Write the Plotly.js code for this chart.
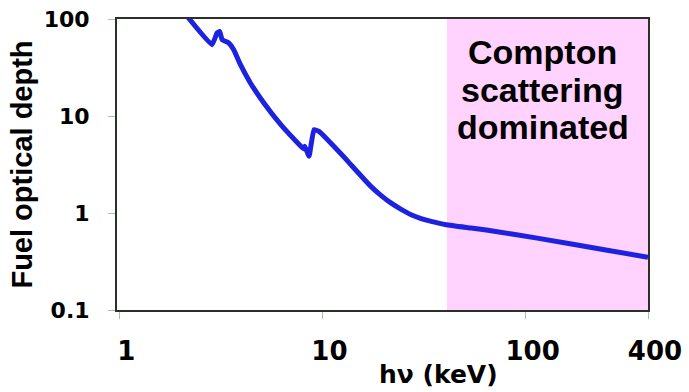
<!DOCTYPE html>
<html>
<head>
<meta charset="utf-8">
<script src="https://cdn.plot.ly/plotly-3.0.1.min.js"></script>
<style>html,body{margin:0;padding:0;background:#fff;}#chart{width:689px;height:392px;}</style>
</head>
<body>
<div id="chart"></div>
<script>
// Photon energy (keV)
var energyKeV = [2.15, 2.86, 3.03, 3.12, 3.21, 3.46, 3.66, 3.95, 4.42, 5.15, 6.24, 7.83, 8.05, 8.18, 8.59, 9.08, 9.62, 12.8, 13.8, 17.3, 19.4, 21.7, 24.4, 27.3, 30.6, 34.3, 40.6, 54, 64, 114, 248, 400];
// Fuel optical depth
var opticalDepth = [108, 54.3, 71.8, 74.5, 61.2, 56.6, 48.3, 33.8, 21.9, 13.6, 8.13, 4.87, 4.6, 4.87, 3.84, 7.23, 6.94, 3.75, 3.15, 1.88, 1.52, 1.27, 1.09, 0.96, 0.877, 0.82, 0.757, 0.70, 0.668, 0.551, 0.416, 0.35];
// Compton-dominated region
var comptonStart = 41;
var comptonEnd = 400;
var comptonLines = ["Compton", "scattering", "dominated"];
var xTickVals = [1, 10, 100, 400];
var xTickText = ["1", "10", "100", "400"];
var yTickVals = [0.1, 1, 10, 100];
var yTickText = ["0.1", "1", "10", "100"];

var trace = {
  x: energyKeV, y: opticalDepth, type: 'scatter', mode: 'lines',
  line: {color: '#1c22e0', width: 5, shape: 'spline', smoothing: 0.35},
  hoverinfo: 'skip', showlegend: false
};

var boldFam = 'DejaVu Sans, Verdana, sans-serif';
var annY = [0.887, 0.756, 0.629];
var annotations = comptonLines.map(function(t, i){
  return {text: t, xref: 'paper', yref: 'paper', x: 0.802, y: annY[i], showarrow: false,
    xanchor: 'center', yanchor: 'middle',
    font: {family: 'Liberation Sans, Arial, sans-serif', weight: 'bold', size: 34, color: '#000'}};
});
annotations.push({text: 'hν (keV)', xref: 'paper', yref: 'paper', x: 0.606, y: -0.222,
  showarrow: false, xanchor: 'center', yanchor: 'middle',
  font: {family: boldFam, weight: 'bold', size: 25, color: '#000'}});

var layout = {
  width: 689, height: 392,
  margin: {l: 117, r: 41, t: 19, b: 82},
  paper_bgcolor: '#fff', plot_bgcolor: '#fff',
  xaxis: {
    type: 'log', range: [-0.011, Math.log10(400)],
    tickvals: xTickVals, ticktext: xTickText,
    showgrid: false, zeroline: false,
    showline: true, mirror: true, linecolor: '#2a2f2a', linewidth: 2,
    ticks: 'outside', ticklen: 7, tickcolor: '#9c9', tickwidth: 1,
    ticklabelstandoff: 10, ticklabelshift: 7,
    tickfont: {family: boldFam, weight: 'bold', size: 26, color: '#000'}
  },
  yaxis: {
    type: 'log', range: [-1, 2],
    tickvals: yTickVals, ticktext: yTickText,
    showgrid: false, zeroline: false,
    showline: true, mirror: true, linecolor: '#2a2f2a', linewidth: 2,
    ticks: 'outside', ticklen: 7, tickcolor: '#9c9', tickwidth: 1,
    ticklabelstandoff: 14,
    tickfont: {family: boldFam, weight: 'bold', size: 22, color: '#000'},
    title: {text: 'Fuel optical depth', standoff: 3,
      font: {family: 'Liberation Sans, Arial, sans-serif', weight: 'bold', size: 29, color: '#000'}}
  },
  shapes: [{type: 'rect', xref: 'x', yref: 'paper', x0: comptonStart, x1: comptonEnd, y0: 0, y1: 1,
    fillcolor: '#ffd3fe', line: {width: 0}, layer: 'below'}],
  annotations: annotations
};

Plotly.newPlot('chart', [trace], layout, {staticPlot: true, displayModeBar: false});
</script>
</body>
</html>
